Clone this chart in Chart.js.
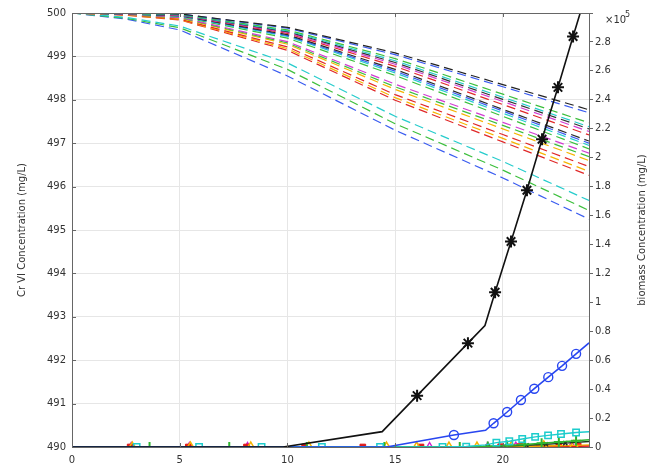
<!DOCTYPE html>
<html>
<head>
<meta charset="utf-8">
<script src="https://cdn.jsdelivr.net/npm/chart.js@4"></script>
<style>
  body { margin: 0; background: #fff; }
  #wrap { width: 648px; height: 468px; }
</style>
</head>
<body>
<div id="wrap"><canvas id="chart"></canvas></div>
<script>
// time axis points for the Cr VI curves
var crX = [0, 2.5, 5, 10, 15, 20, 24];
// Cr VI concentration (mg/L), one row per dashed curve
var crSeries = [
  [500, 499.995, 499.98, 499.67, 499.08, 498.35, 497.77],
  [500, 499.995, 499.98, 499.65, 499.04, 498.30, 497.70],
  [500, 499.99, 499.97, 499.61, 498.95, 498.13, 497.47],
  [500, 499.99, 499.96, 499.59, 498.90, 498.06, 497.38],
  [500, 499.99, 499.96, 499.57, 498.86, 498.01, 497.33],
  [500, 499.985, 499.95, 499.55, 498.82, 497.96, 497.27],
  [500, 499.985, 499.95, 499.53, 498.77, 497.89, 497.19],
  [500, 499.98, 499.94, 499.50, 498.70, 497.78, 497.05],
  [500, 499.98, 499.94, 499.48, 498.66, 497.74, 497.00],
  [500, 499.98, 499.93, 499.46, 498.62, 497.69, 496.95],
  [500, 499.98, 499.92, 499.42, 498.56, 497.62, 496.87],
  [500, 499.97, 499.90, 499.34, 498.36, 497.48, 496.77],
  [500, 499.97, 499.89, 499.31, 498.30, 497.41, 496.69],
  [500, 499.965, 499.88, 499.28, 498.24, 497.33, 496.60],
  [500, 499.96, 499.86, 499.22, 498.12, 497.20, 496.46],
  [500, 499.955, 499.85, 499.18, 498.05, 497.11, 496.35],
  [500, 499.95, 499.84, 499.14, 497.99, 497.03, 496.26],
  [500, 499.90, 499.70, 498.85, 497.62, 496.58, 495.68],
  [500, 499.88, 499.66, 498.70, 497.45, 496.38, 495.45],
  [500, 499.86, 499.61, 498.55, 497.30, 496.20, 495.25]
];
var crColors = ['#222222', '#3a5cf0', '#3cbf3c', '#25cccc', '#333333', '#d23cd2', '#e02828',
  '#2a2a2a', '#3a5cf0', '#25cccc', '#3cbf3c', '#d23cd2', '#3cbf3c', '#f5b400', '#e02828',
  '#f5b400', '#e02828', '#25cccc', '#3cbf3c', '#3a5cf0'];

// biomass concentration (mg/L)
var blackX = [0, 9.8, 14.4, 16.02, 18.38, 19.17, 19.64, 20.38, 21.12, 21.82, 22.56, 23.26, 24];
var blackY = [0, 0, 10600, 35500, 71800, 84000, 107000, 142000, 177500, 212700, 248600, 283800, 320000];
var blackMark = [0, 0, 0, 1, 1, 0, 1, 1, 1, 1, 1, 1, 0];

var blueX = [0, 14.6, 17.73, 19.2, 19.57, 20.2, 20.84, 21.46, 22.11, 22.75, 23.4, 24];
var blueY = [0, 0, 8300, 11500, 16400, 24200, 32500, 40300, 48300, 56100, 64400, 72000];
var blueMark = [0, 0, 1, 0, 1, 1, 1, 1, 1, 1, 1, 0];

var cyanX = [0, 3.0, 5.9, 8.8, 11.6, 14.3, 17.2, 18.3, 19.2, 19.7, 20.3, 20.9, 21.5, 22.1, 22.7, 23.4, 24];
var cyanY = [0, 0, 0, 0, 0, 0, 0, 300, 1500, 3000, 4000, 5500, 7000, 8000, 9000, 10000, 10500];
var cyanMark = [0, 1, 1, 1, 1, 1, 1, 1, 0, 1, 1, 1, 1, 1, 1, 1, 0];

var greenX = [0, 3.6, 7.3, 10.9, 14.5, 18.0, 19.3, 20.2, 21.0, 21.8, 22.6, 23.4, 24];
var greenY = [0, 0, 0, 0, 0, 0, 300, 1000, 1800, 2600, 3400, 4300, 5000];

var darkX = [0, 19.3, 20.2, 21.1, 22.0, 22.9, 24];
var darkY = [0, 200, 600, 1200, 1900, 2700, 3800];

var orangeX = [0, 2.8, 5.5, 8.3, 11.0, 14.6, 16.0, 17.5, 18.8, 20.4, 21.9, 23.3, 24];
var orangeY = [0, 0, 0, 0, 0, 0, 0, 0, 0, 300, 700, 1100, 1400];

var redX = [0, 2.7, 5.4, 8.1, 10.8, 13.5, 16.2, 19.9, 20.8, 21.7, 22.6, 23.5, 24];
var redY = [0, 0, 0, 0, 0, 0, 0, 200, 300, 400, 500, 600, 700];

var magentaX = [0, 2.75, 5.45, 8.15, 16.6, 19.3, 20.6, 21.9, 23.2, 24];
var magentaY = [0, 0, 0, 0, 0, 0, 200, 400, 700, 900];

var xTicks = [0, 5, 10, 15, 20];

function pts(xs, ys) {
  return xs.map(function(x, i) { return { x: x, y: ys[i] }; });
}
function inner(xs, r) {
  return xs.map(function(x) { return x > 0 && x < 24 ? r : 0; });
}

var datasets = [];

// biomass curves (drawn on top)
datasets.push({
  data: pts(blackX, blackY), yAxisID: 'y2', order: 0,
  borderColor: '#111', borderWidth: 1.6, pointStyle: 'star',
  pointRadius: blackMark.map(function(m) { return m ? 6 : 0; }),
  pointBorderColor: '#111', pointBorderWidth: 2
});
datasets.push({
  data: pts(blueX, blueY), yAxisID: 'y2', order: 0,
  borderColor: '#2846f0', borderWidth: 1.6, pointStyle: 'circle',
  pointRadius: blueMark.map(function(m) { return m ? 4.5 : 0; }),
  pointBorderColor: '#2846f0', pointBackgroundColor: 'rgba(0,0,0,0)', pointBorderWidth: 1.4
});
datasets.push({
  data: pts(cyanX, cyanY), yAxisID: 'y2', order: 0,
  borderColor: '#1ccccc', borderWidth: 1.4, pointStyle: 'rect',
  pointRadius: cyanMark.map(function(m) { return m ? 4.5 : 0; }),
  pointBorderColor: '#1ccccc', pointBackgroundColor: 'rgba(0,0,0,0)', pointBorderWidth: 1.5
});
datasets.push({
  data: pts(greenX, greenY), yAxisID: 'y2', order: 0,
  borderColor: '#2fb52f', borderWidth: 1.5, pointStyle: 'cross',
  pointRadius: inner(greenX, 5),
  pointBorderColor: '#2fb52f', pointBorderWidth: 2
});
datasets.push({
  data: pts(darkX, darkY), yAxisID: 'y2', order: 0,
  borderColor: '#1d3d1d', borderWidth: 1.3, pointStyle: 'crossRot',
  pointRadius: inner(darkX, 3),
  pointBorderColor: '#222', pointBorderWidth: 1.4
});
datasets.push({
  data: pts(orangeX, orangeY), yAxisID: 'y2', order: 0,
  borderColor: '#f5b400', borderWidth: 1.3, pointStyle: 'triangle',
  pointRadius: inner(orangeX, 5),
  pointBorderColor: '#f5b400', pointBackgroundColor: 'rgba(0,0,0,0)', pointBorderWidth: 1.5
});
datasets.push({
  data: pts(redX, redY), yAxisID: 'y2', order: 0,
  borderColor: '#e01818', borderWidth: 1.6, pointStyle: 'rect',
  pointRadius: inner(redX, 4),
  pointBorderColor: '#e01818', pointBackgroundColor: '#e01818', pointBorderWidth: 1
});
datasets.push({
  data: pts(magentaX, magentaY), yAxisID: 'y2', order: 0,
  borderColor: '#d020d0', borderWidth: 1.6, pointStyle: 'triangle',
  pointRadius: inner(magentaX, 4.5),
  pointBorderColor: '#d020d0', pointBackgroundColor: 'rgba(0,0,0,0)', pointBorderWidth: 1.4
});

// Cr VI dashed curves
crSeries.forEach(function(vals, i) {
  datasets.push({
    data: pts(crX, vals), yAxisID: 'y', order: 1,
    borderColor: crColors[i], borderWidth: 1.2, borderDash: [9, 5],
    pointRadius: 0
  });
});

var framePlugin = {
  id: 'frame',
  afterDraw: function(chart) {
    var ctx = chart.ctx, a = chart.chartArea, sx = chart.scales.x, sy = chart.scales.y;
    ctx.save();
    ctx.strokeStyle = '#666';
    ctx.lineWidth = 1;
    ctx.beginPath();
    ctx.moveTo(a.left, a.top + 0.5);
    ctx.lineTo(a.right, a.top + 0.5);
    xTicks.forEach(function(v) {
      var px = Math.round(sx.getPixelForValue(v)) + 0.5;
      ctx.moveTo(px, a.bottom); ctx.lineTo(px, a.bottom - 4);
      ctx.moveTo(px, a.top); ctx.lineTo(px, a.top + 4);
    });
    for (var v = 491; v < 500; v++) {
      var py = Math.round(sy.getPixelForValue(v)) + 0.5;
      ctx.moveTo(a.left, py); ctx.lineTo(a.left + 4, py);
    }
    ctx.stroke();

    ctx.fillStyle = '#333';
    ctx.font = '10px "DejaVu Sans"';
    ctx.textAlign = 'center';
    ctx.textBaseline = 'middle';
    var cy = (a.top + a.bottom) / 2;
    ctx.save();
    ctx.translate(22, cy);
    ctx.rotate(-Math.PI / 2);
    ctx.fillText('Cr VI Concentration (mg/L)', 0, 0);
    ctx.restore();
    ctx.save();
    ctx.translate(642, cy);
    ctx.rotate(-Math.PI / 2);
    ctx.fillText('biomass Concentration (mg/L)', 0, 0);
    ctx.restore();

    ctx.textAlign = 'left';
    ctx.fillText('\u00d710', 605, 20);
    ctx.font = '8px "DejaVu Sans"';
    ctx.fillText('5', 625, 15);
    ctx.restore();
  }
};

Chart.defaults.font.family = '"DejaVu Sans", sans-serif';
Chart.defaults.font.size = 10;
Chart.defaults.color = '#333';

new Chart(document.getElementById('chart'), {
  type: 'line',
  data: { datasets: datasets },
  options: {
    responsive: true,
    maintainAspectRatio: false,
    animation: false,
    events: [],
    layout: { padding: { top: 13, left: 0, right: 0, bottom: 0 } },
    plugins: { legend: { display: false }, tooltip: { enabled: false } },
    scales: {
      x: {
        type: 'linear', min: 0, max: 24,
        afterBuildTicks: function(s) { s.ticks = xTicks.map(function(v) { return { value: v }; }); },
        afterFit: function(s) { s.height = 21; },
        grid: { color: '#e6e6e6', drawTicks: false },
        border: { color: '#666' },
        ticks: { padding: 7, maxRotation: 0, color: '#333' }
      },
      y: {
        position: 'left', min: 490, max: 500,
        ticks: { stepSize: 1, padding: 6, color: '#333' },
        afterFit: function(s) { s.width = 72; },
        grid: { color: '#e6e6e6', drawTicks: false },
        border: { color: '#666' }
      },
      y2: {
        position: 'right', min: 0, max: 300000,
        ticks: {
          stepSize: 20000, padding: 2, color: '#333',
          callback: function(v) { return v >= 300000 ? '' : String(+(v / 1e5).toFixed(1)); }
        },
        afterFit: function(s) { s.width = 59; },
        grid: { drawOnChartArea: false, tickLength: 4, color: '#666' },
        border: { color: '#666' }
      }
    }
  },
  plugins: [framePlugin]
});
</script>
</body>
</html>
